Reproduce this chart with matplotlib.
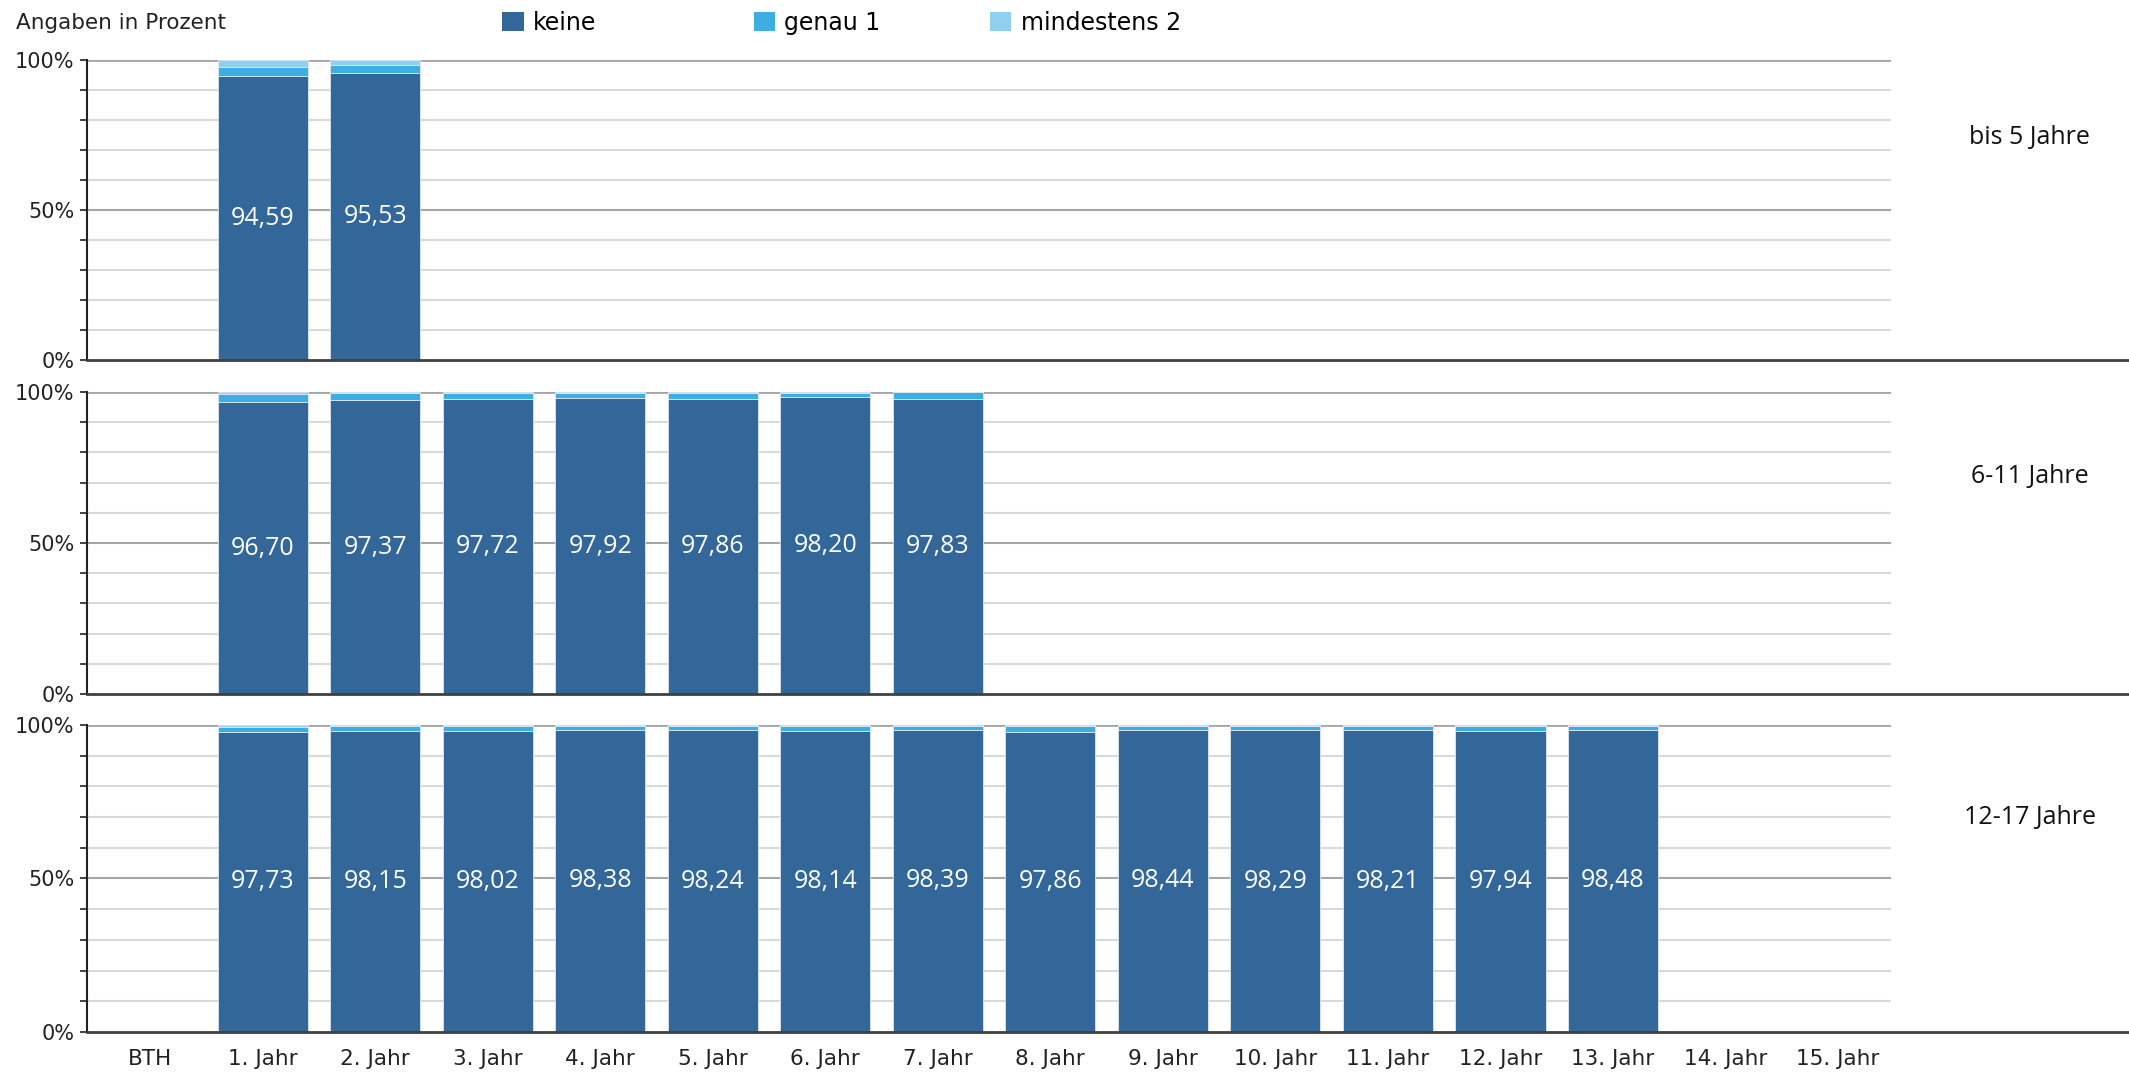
import numpy as np
import matplotlib.pyplot as plt
from matplotlib.patches import Patch
from matplotlib.ticker import MultipleLocator

# categories on the x axis
categories = ['BTH', '1. Jahr', '2. Jahr', '3. Jahr', '4. Jahr', '5. Jahr', '6. Jahr', '7. Jahr',
              '8. Jahr', '9. Jahr', '10. Jahr', '11. Jahr', '12. Jahr', '13. Jahr', '14. Jahr', '15. Jahr']
groups = ['bis 5 Jahre', '6-11 Jahre', '12-17 Jahre']
series = ['keine', 'genau 1', 'mindestens 2']

# values per panel (starting at 1. Jahr)
keine_0_5 = [94.59, 95.53]
genau1_0_5 = [3.00, 2.90]
mind2_0_5 = [2.41, 1.57]

keine_6_11 = [96.70, 97.37, 97.72, 97.92, 97.86, 98.20, 97.83]
genau1_6_11 = [2.80, 2.20, 1.85, 1.70, 1.75, 1.45, 2.07]
mind2_6_11 = [0.50, 0.43, 0.43, 0.38, 0.39, 0.35, 0.10]

keine_12_17 = [97.73, 98.15, 98.02, 98.38, 98.24, 98.14, 98.39, 97.86, 98.44, 98.29, 98.21, 97.94, 98.48]
genau1_12_17 = [1.75, 1.40, 1.50, 1.30, 1.35, 1.45, 1.25, 1.65, 1.20, 1.30, 1.40, 1.60, 1.20]
mind2_12_17 = [0.52, 0.45, 0.48, 0.32, 0.41, 0.41, 0.36, 0.49, 0.36, 0.41, 0.39, 0.46, 0.32]

panels = [
    (keine_0_5, genau1_0_5, mind2_0_5),
    (keine_6_11, genau1_6_11, mind2_6_11),
    (keine_12_17, genau1_12_17, mind2_12_17),
]

colors = ['#336699', '#3dade2', '#8fd0f1']
font = 'DejaVu Sans'

fig = plt.figure(figsize=(21.29, 10.75), dpi=100)

# axes boxes in figure fractions (left, bottom, width, height)
boxes = [
    (0.0409, 0.6651, 0.8473, 0.2791),
    (0.0409, 0.3544, 0.8473, 0.2809),
    (0.0409, 0.0400, 0.8473, 0.2856),
]
label_y = [0.74, 0.72, 0.70]

x = np.arange(len(categories))
ext = (2129 - 87) / 1804  # how far the 0% line runs to the right

for i, (box, (k, g, m)) in enumerate(zip(boxes, panels)):
    ax = fig.add_axes(box)
    n = len(k)
    xs = x[1:1 + n]
    k = np.array(k); g = np.array(g); m = np.array(m)
    ax.bar(xs, k, width=0.8, color=colors[0], edgecolor='#dce8f2', linewidth=0.6, zorder=3)
    ax.bar(xs, g, width=0.8, bottom=k, color=colors[1], edgecolor='#dce8f2', linewidth=0.6, zorder=3)
    ax.bar(xs, m, width=0.8, bottom=k + g, color=colors[2], edgecolor='#dce8f2', linewidth=0.6, zorder=3)
    for xi, v in zip(xs, k):
        ax.text(xi, v / 2, f'{v:.2f}'.replace('.', ','), ha='center', va='center',
                color='white', fontsize=18, family='Open Sans', zorder=4)

    ax.set_xlim(-0.56, len(categories) - 0.53)
    ax.set_ylim(0, 100)

    # grid lines
    for yv in range(10, 100, 10):
        c = '#a6a6a6' if yv == 50 else '#d9d9d9'
        ax.axhline(yv, color=c, linewidth=1.5, zorder=1)
    ax.axhline(100, color='#a6a6a6', linewidth=2.0, zorder=1)
    ax.axhline(0, xmin=0, xmax=ext, color='#404040', linewidth=2.0, clip_on=False, zorder=5)

    for s in ['top', 'right', 'bottom']:
        ax.spines[s].set_visible(False)
    ax.spines['left'].set_color('#222222')
    ax.spines['left'].set_linewidth(1.5)

    ax.set_yticks([0, 50, 100])
    ax.set_yticklabels(['0%', '50%', '100%'], family=font, fontsize=15, color='#222222')
    ax.yaxis.set_minor_locator(MultipleLocator(10))
    ax.tick_params(axis='y', which='both', direction='out', length=5, width=1.2, color='#222222', pad=4)

    if i == 2:
        ax.set_xticks(x)
        ax.set_xticklabels(categories, family=font, fontsize=15.5, color='#222222')
        ax.tick_params(axis='x', length=0, pad=12)
    else:
        ax.set_xticks([])

    ax.text(1.077, label_y[i], groups[i], transform=ax.transAxes, ha='center',
            va='center', fontsize=18, family='Open Sans', color='#111111')

fig.text(0.0075, 0.979, 'Angaben in Prozent', family=font, fontsize=15.5,
         color='#222222', va='center', ha='left')

# legend entries placed one by one, like the fixed slots of the original
legend_x = [0.236, 0.354, 0.465]
for name, c, lx in zip(series, colors, legend_x):
    fig.legend([Patch(facecolor=c, edgecolor='none')], [name], loc='center left',
               bbox_to_anchor=(lx, 0.979), frameon=False, borderpad=0, borderaxespad=0,
               prop={'family': font, 'size': 17}, handlelength=0.9, handleheight=0.9,
               handletextpad=0.4)

fig.savefig('out.png', dpi=100)
